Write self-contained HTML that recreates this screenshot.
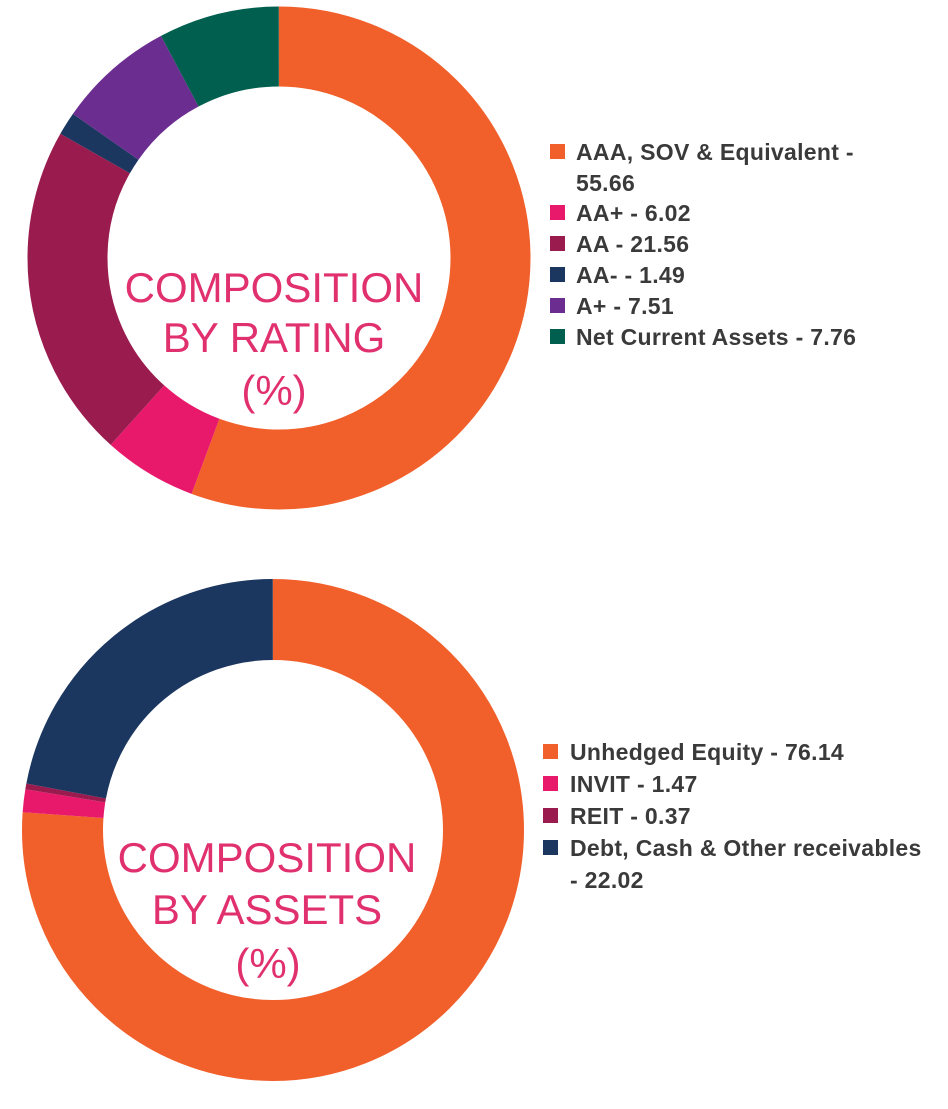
<!DOCTYPE html>
<html><head><meta charset="utf-8"><style>
body{margin:0;background:#fff;width:948px;height:1109px;overflow:hidden}
svg{display:block}
.lg{font-family:"Liberation Sans",sans-serif;font-weight:bold;font-size:23px;letter-spacing:0.3px;fill:#3a3a3a}
.ct{font-family:"Liberation Sans",sans-serif;font-size:42px;fill:#e0306e;text-anchor:middle}
</style></head><body>
<svg width="948" height="1109" viewBox="0 0 948 1109">
<g transform="translate(279,258) rotate(-90)" fill="none" stroke-width="80">
<circle r="211.5" pathLength="100" stroke="#F15F2A" stroke-dasharray="55.66 44.34" stroke-dashoffset="0"/>
<circle r="211.5" pathLength="100" stroke="#E8196B" stroke-dasharray="6.02 93.98" stroke-dashoffset="-55.66"/>
<circle r="211.5" pathLength="100" stroke="#9A1B4E" stroke-dasharray="21.56 78.44" stroke-dashoffset="-61.68"/>
<circle r="211.5" pathLength="100" stroke="#1B365F" stroke-dasharray="1.49 98.51" stroke-dashoffset="-83.24"/>
<circle r="211.5" pathLength="100" stroke="#6B2D8F" stroke-dasharray="7.51 92.49" stroke-dashoffset="-84.73"/>
<circle r="211.5" pathLength="100" stroke="#005F4E" stroke-dasharray="7.76 92.24" stroke-dashoffset="-92.24"/>
</g>
<text class="ct" x="274" y="302">COMPOSITION</text>
<text class="ct" x="274" y="352">BY RATING</text>
<text class="ct" x="274" y="405">(%)</text>
<g class="lg">
<rect x="550" y="144" width="15" height="15" fill="#F15F2A"/><text x="576" y="160">AAA, SOV &amp; Equivalent -</text>
<text x="576" y="191">55.66</text>
<rect x="550" y="205" width="15" height="15" fill="#E8196B"/><text x="576" y="221">AA+ - 6.02</text>
<rect x="550" y="236" width="15" height="15" fill="#9A1B4E"/><text x="576" y="252">AA - 21.56</text>
<rect x="550" y="267" width="15" height="15" fill="#1B365F"/><text x="576" y="283">AA- - 1.49</text>
<rect x="550" y="298" width="15" height="15" fill="#6B2D8F"/><text x="576" y="314">A+ - 7.51</text>
<rect x="550" y="329" width="15" height="15" fill="#005F4E"/><text x="576" y="345">Net Current Assets - 7.76</text>
</g>
<g transform="translate(273,830) rotate(-90)" fill="none" stroke-width="81">
<circle r="210.5" pathLength="100" stroke="#F15F2A" stroke-dasharray="76.14 23.86" stroke-dashoffset="0"/>
<circle r="210.5" pathLength="100" stroke="#E8196B" stroke-dasharray="1.47 98.53" stroke-dashoffset="-76.14"/>
<circle r="210.5" pathLength="100" stroke="#9A1B4E" stroke-dasharray="0.37 99.63" stroke-dashoffset="-77.61"/>
<circle r="210.5" pathLength="100" stroke="#1B365F" stroke-dasharray="22.02 77.98" stroke-dashoffset="-77.98"/>
</g>
<text class="ct" x="267" y="872">COMPOSITION</text>
<text class="ct" x="267" y="924">BY ASSETS</text>
<text class="ct" x="268" y="978">(%)</text>
<g class="lg">
<rect x="543" y="744" width="15" height="15" fill="#F15F2A"/><text x="570" y="760">Unhedged Equity - 76.14</text>
<rect x="543" y="776" width="15" height="15" fill="#E8196B"/><text x="570" y="792">INVIT - 1.47</text>
<rect x="543" y="808" width="15" height="15" fill="#9A1B4E"/><text x="570" y="824">REIT - 0.37</text>
<rect x="543" y="840" width="15" height="15" fill="#1B365F"/><text x="570" y="856">Debt, Cash &amp; Other receivables</text>
<text x="570" y="888">- 22.02</text>
</g>
</svg>
</body></html>
